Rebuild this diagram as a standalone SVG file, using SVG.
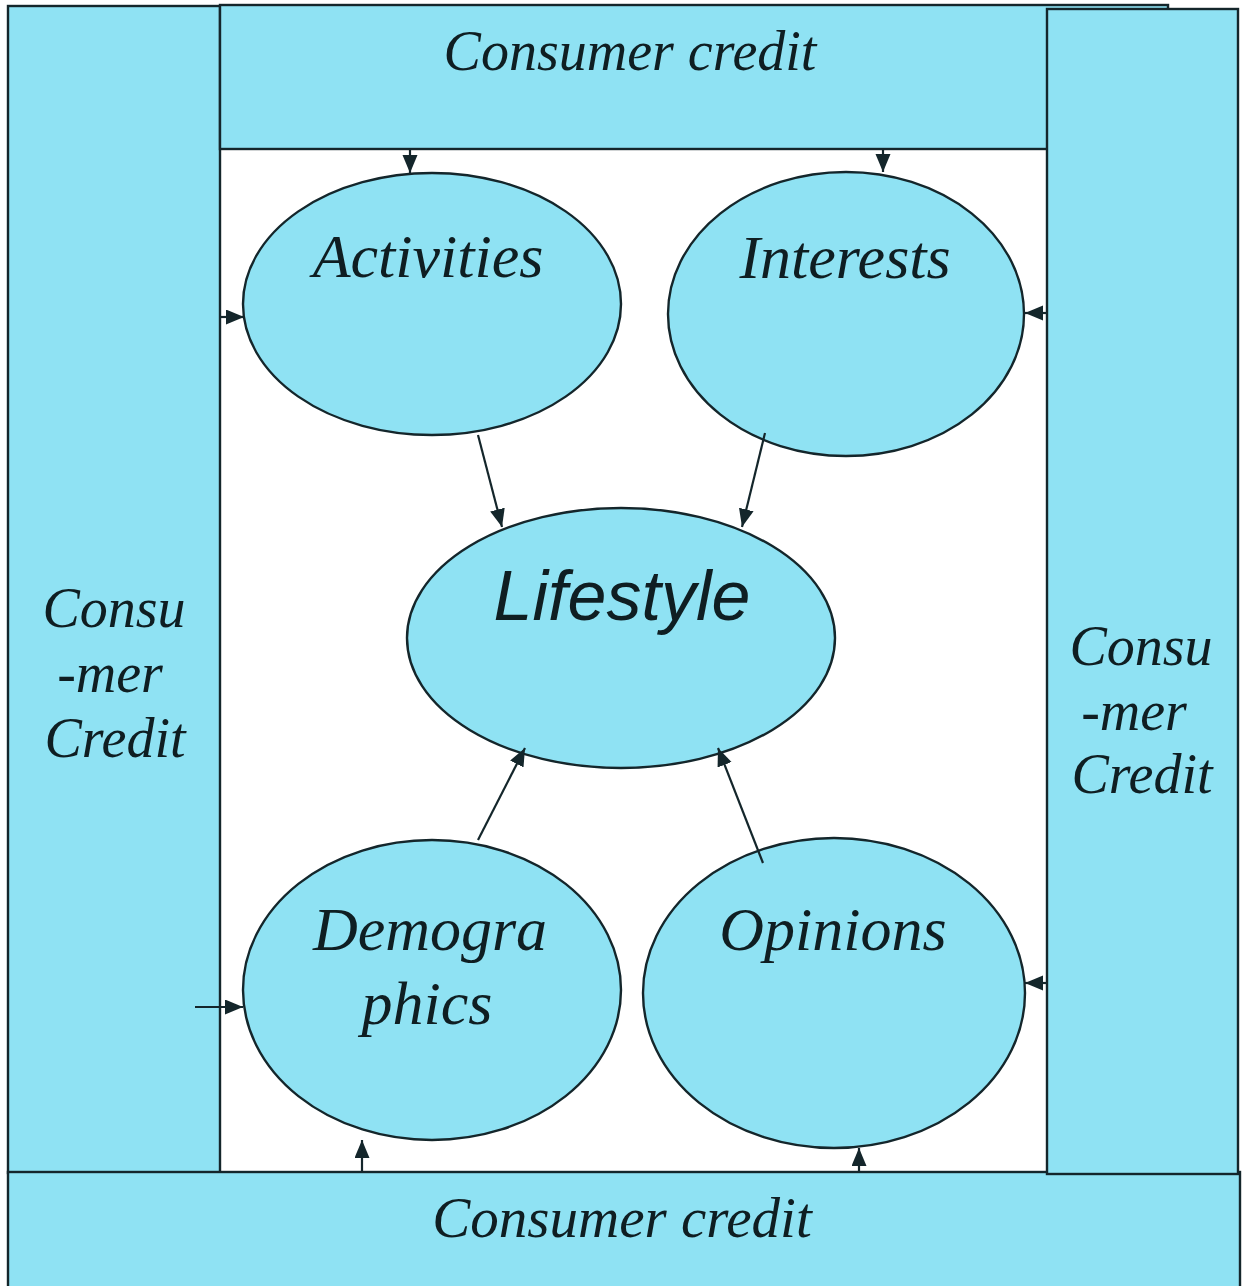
<svg xmlns="http://www.w3.org/2000/svg" width="1244" height="1286" viewBox="0 0 1244 1286">
  <style>
    .panel { fill: #8fe2f3; stroke: #14262b; stroke-width: 2.4; }
    .node { fill: #8fe2f3; stroke: #14262b; stroke-width: 2.4; }
    .serif { font-family: "Liberation Serif", "Times New Roman", serif; font-style: italic; fill: #0f1e22; }
    .sans { font-family: "Liberation Sans", Arial, sans-serif; font-style: italic; fill: #0f1e22; }
    .link { stroke: #14262b; stroke-width: 2.2; fill: none; marker-end: url(#head); }
  </style>
  <defs>
    <marker id="head" markerUnits="userSpaceOnUse" markerWidth="20" markerHeight="16" refX="18" refY="7.5" orient="auto">
      <path d="M0,0 L18,7.5 L0,15 Z" fill="#14262b"/>
    </marker>
  </defs>

  <rect width="1244" height="1286" fill="#ffffff"/>

  <!-- surrounding consumer credit frame -->
  <g id="credit-left">
    <rect class="panel" x="8" y="6" width="212" height="1167"/>
    <text class="serif" font-size="56" text-anchor="middle" x="114" y="627">Consu</text>
    <text class="serif" font-size="56" text-anchor="middle" x="110" y="692">-mer</text>
    <text class="serif" font-size="56" text-anchor="middle" x="115" y="757">Credit</text>
  </g>
  <g id="credit-top">
    <rect class="panel" x="220" y="5" width="948" height="144"/>
    <text class="serif" font-size="56" text-anchor="middle" x="630" y="70">Consumer credit</text>
  </g>
  <g id="credit-bottom">
    <rect class="panel" x="8" y="1172" width="1232" height="130"/>
    <text class="serif" font-size="57" text-anchor="middle" x="622" y="1237">Consumer credit</text>
  </g>
  <g id="credit-right">
    <rect class="panel" x="1047" y="9" width="191" height="1165"/>
    <text class="serif" font-size="56" text-anchor="middle" x="1141" y="665">Consu</text>
    <text class="serif" font-size="56" text-anchor="middle" x="1134" y="730">-mer</text>
    <text class="serif" font-size="56" text-anchor="middle" x="1142" y="793">Credit</text>
  </g>

  <!-- lifestyle components -->
  <g id="activities">
    <ellipse class="node" cx="432" cy="304" rx="189" ry="131"/>
    <text class="serif" font-size="62" text-anchor="middle" x="428" y="277">Activities</text>
  </g>
  <g id="interests">
    <ellipse class="node" cx="846" cy="314" rx="178" ry="142"/>
    <text class="serif" font-size="62" text-anchor="middle" x="845" y="278">Interests</text>
  </g>
  <g id="lifestyle">
    <ellipse class="node" cx="621" cy="638" rx="214" ry="130"/>
    <text class="sans" font-size="70" text-anchor="middle" x="622" y="620">Lifestyle</text>
  </g>
  <g id="demographics">
    <ellipse class="node" cx="432" cy="990" rx="189" ry="150"/>
    <text class="serif" font-size="62" text-anchor="middle" x="430" y="950">Demogra</text>
    <text class="serif" font-size="62" text-anchor="middle" x="427" y="1024">phics</text>
  </g>
  <g id="opinions">
    <ellipse class="node" cx="834" cy="993" rx="191" ry="155"/>
    <text class="serif" font-size="62" text-anchor="middle" x="833" y="950">Opinions</text>
  </g>

  <!-- connectors -->
  <g id="connectors">
    <line class="link" x1="410" y1="149" x2="410" y2="173"/>
    <line class="link" x1="883" y1="149" x2="883" y2="172"/>
    <line class="link" x1="220" y1="317" x2="244" y2="317"/>
    <line class="link" x1="1047" y1="313" x2="1025" y2="313"/>
    <line class="link" x1="478" y1="435" x2="502" y2="527"/>
    <line class="link" x1="765" y1="433" x2="742" y2="527"/>
    <line class="link" x1="478" y1="840" x2="525" y2="748"/>
    <line class="link" x1="763" y1="863" x2="718" y2="748"/>
    <line class="link" x1="195" y1="1007" x2="243" y2="1007"/>
    <line class="link" x1="1047" y1="983" x2="1025" y2="983"/>
    <line class="link" x1="362" y1="1172" x2="362" y2="1140"/>
    <line class="link" x1="859" y1="1172" x2="859" y2="1148"/>
  </g>
</svg>
